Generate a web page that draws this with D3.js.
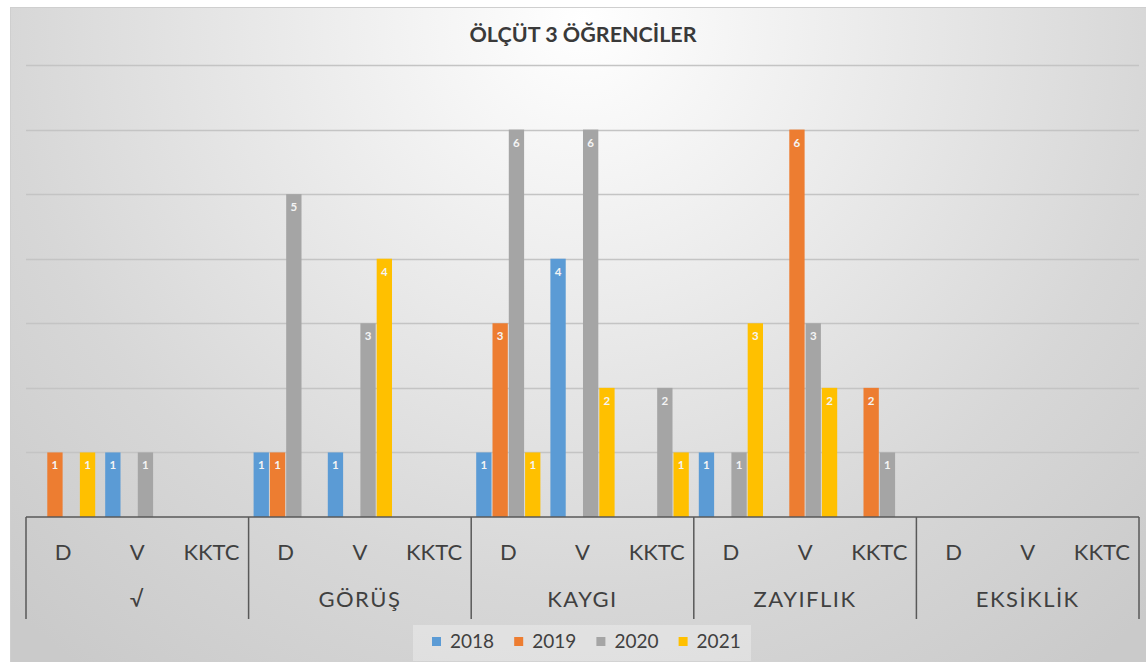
<!DOCTYPE html>
<html>
<head>
<meta charset="utf-8">
<script src="https://cdn.jsdelivr.net/npm/d3@7"></script>
<style>
  html, body { margin: 0; padding: 0; background: #fff; }
  svg { display: block; }
</style>
</head>
<body>
<div id="chart"></div>
<script>
// categories: main groups, sub groups, series
const groups = ["√", "GÖRÜŞ", "KAYGI", "ZAYIFLIK", "EKSİKLİK"];
const subs = ["D", "V", "KKTC"];
const years = ["2018", "2019", "2020", "2021"];
const colors = ["#5B9BD5", "#ED7D31", "#A5A5A5", "#FFC000"];

// values per year, in order group x sub (D, V, KKTC for each group)
const v2018 = [0, 1, 0,  1, 1, 0,  1, 4, 0,  1, 0, 0,  0, 0, 0];
const v2019 = [1, 0, 0,  1, 0, 0,  3, 0, 0,  0, 6, 2,  0, 0, 0];
const v2020 = [0, 1, 0,  5, 3, 0,  6, 6, 2,  1, 3, 1,  0, 0, 0];
const v2021 = [1, 0, 0,  0, 4, 0,  1, 2, 1,  3, 2, 0,  0, 0, 0];
const series = [v2018, v2019, v2020, v2021];
const gridTicks = [1, 2, 3, 4, 5, 6, 7];

const width = 1146, height = 662;
const x0 = 26, x1 = 1139;
const baseY = 517;
const font = "Lato, 'Open Sans', sans-serif";
const textColor = "#404040";

const svg = d3.select("#chart").append("svg")
  .attr("width", width)
  .attr("height", height);

// background gradient
const defs = svg.append("defs");
const grad = defs.append("radialGradient")
  .attr("id", "bg")
  .attr("gradientUnits", "userSpaceOnUse")
  .attr("cx", 583).attr("cy", 20).attr("r", 820);
grad.append("stop").attr("offset", 0).attr("stop-color", "#ffffff");
grad.append("stop").attr("offset", 0.7).attr("stop-color", "#d7d7d7");
grad.append("stop").attr("offset", 1).attr("stop-color", "#cacaca");

svg.append("rect")
  .attr("x", 10.5).attr("y", 7.5)
  .attr("width", width - 10).attr("height", height - 7)
  .attr("fill", "url(#bg)")
  .attr("stroke", "#cfcfcf");

// scales
const y = d3.scaleLinear().domain([0, 7]).range([baseY, 65]);
const xGroup = d3.scaleBand().domain(groups).range([x0, x1]);
const xSub = d3.scaleBand().domain(subs).range([0, xGroup.bandwidth()]);
const xYear = d3.scaleBand().domain(years)
  .range([5, xSub.bandwidth() - 5]).paddingInner(0.06);

// gridlines
svg.append("g")
  .selectAll("line")
  .data(gridTicks)
  .join("line")
  .attr("x1", x0).attr("x2", x1)
  .attr("y1", d => Math.round(y(d)) + 0.5)
  .attr("y2", d => Math.round(y(d)) + 0.5)
  .attr("stroke", "#c4c4c4")
  .attr("stroke-width", 1.3);

// title
svg.append("text")
  .attr("x", 583).attr("y", 42)
  .attr("text-anchor", "middle")
  .attr("font-family", font)
  .attr("font-weight", 700)
  .attr("font-size", 21.5)
  .attr("fill", "#3a3a3a")
  .text("ÖLÇÜT 3 ÖĞRENCİLER");

// bars
const bars = [];
series.forEach((vals, si) => {
  vals.forEach((v, i) => {
    if (v > 0) {
      bars.push({
        year: years[si],
        color: colors[si],
        group: groups[Math.floor(i / subs.length)],
        sub: subs[i % subs.length],
        value: v
      });
    }
  });
});

const barX = d => xGroup(d.group) + xSub(d.sub) + xYear(d.year);

svg.append("g")
  .selectAll("rect")
  .data(bars)
  .join("rect")
  .attr("x", barX)
  .attr("y", d => y(d.value))
  .attr("width", xYear.bandwidth())
  .attr("height", d => baseY - y(d.value))
  .attr("fill", d => d.color);

svg.append("g")
  .selectAll("text")
  .data(bars)
  .join("text")
  .attr("x", d => barX(d) + xYear.bandwidth() / 2)
  .attr("y", d => y(d.value) + 17)
  .attr("text-anchor", "middle")
  .attr("font-family", font)
  .attr("font-weight", 700)
  .attr("font-size", 11.5)
  .attr("fill", "#f4f4f4")
  .text(d => d.value);

// multi-level category axis
const axis = svg.append("g")
  .attr("stroke", "#595959")
  .attr("stroke-width", 1.5);

axis.append("line")
  .attr("x1", x0).attr("x2", x1)
  .attr("y1", baseY).attr("y2", baseY);

const bounds = groups.map(g => xGroup(g)).concat([x1]);
axis.selectAll("line.sep")
  .data(bounds)
  .join("line")
  .attr("class", "sep")
  .attr("x1", d => d).attr("x2", d => d)
  .attr("y1", baseY).attr("y2", 619);

const subLabels = [];
groups.forEach(g => subs.forEach(s => subLabels.push({ g, s })));

svg.append("g")
  .selectAll("text")
  .data(subLabels)
  .join("text")
  .attr("x", d => xGroup(d.g) + xSub(d.s) + xSub.bandwidth() / 2)
  .attr("y", 560)
  .attr("text-anchor", "middle")
  .attr("font-family", font)
  .attr("font-size", 22)
  .attr("fill", textColor)
  .text(d => d.s);

svg.append("g")
  .selectAll("text")
  .data(groups)
  .join("text")
  .attr("x", d => xGroup(d) + xGroup.bandwidth() / 2)
  .attr("y", 607)
  .attr("text-anchor", "middle")
  .attr("font-family", font)
  .attr("font-size", 22)
  .attr("letter-spacing", 1.5)
  .attr("fill", textColor)
  .text(d => d);

// legend
const legend = svg.append("g");
legend.append("rect")
  .attr("x", 413).attr("y", 625)
  .attr("width", 338).attr("height", 36)
  .attr("fill", "#ffffff")
  .attr("fill-opacity", 0.3);

const item = legend.selectAll("g.item")
  .data(years)
  .join("g")
  .attr("class", "item")
  .attr("transform", (d, i) => `translate(${432 + i * 82.2},0)`);

item.append("rect")
  .attr("x", 0).attr("y", 637)
  .attr("width", 9).attr("height", 9)
  .attr("fill", (d, i) => colors[i]);

item.append("text")
  .attr("x", 18).attr("y", 648)
  .attr("font-family", font)
  .attr("font-size", 19)
  .attr("fill", textColor)
  .text(d => d);
</script>
</body>
</html>
